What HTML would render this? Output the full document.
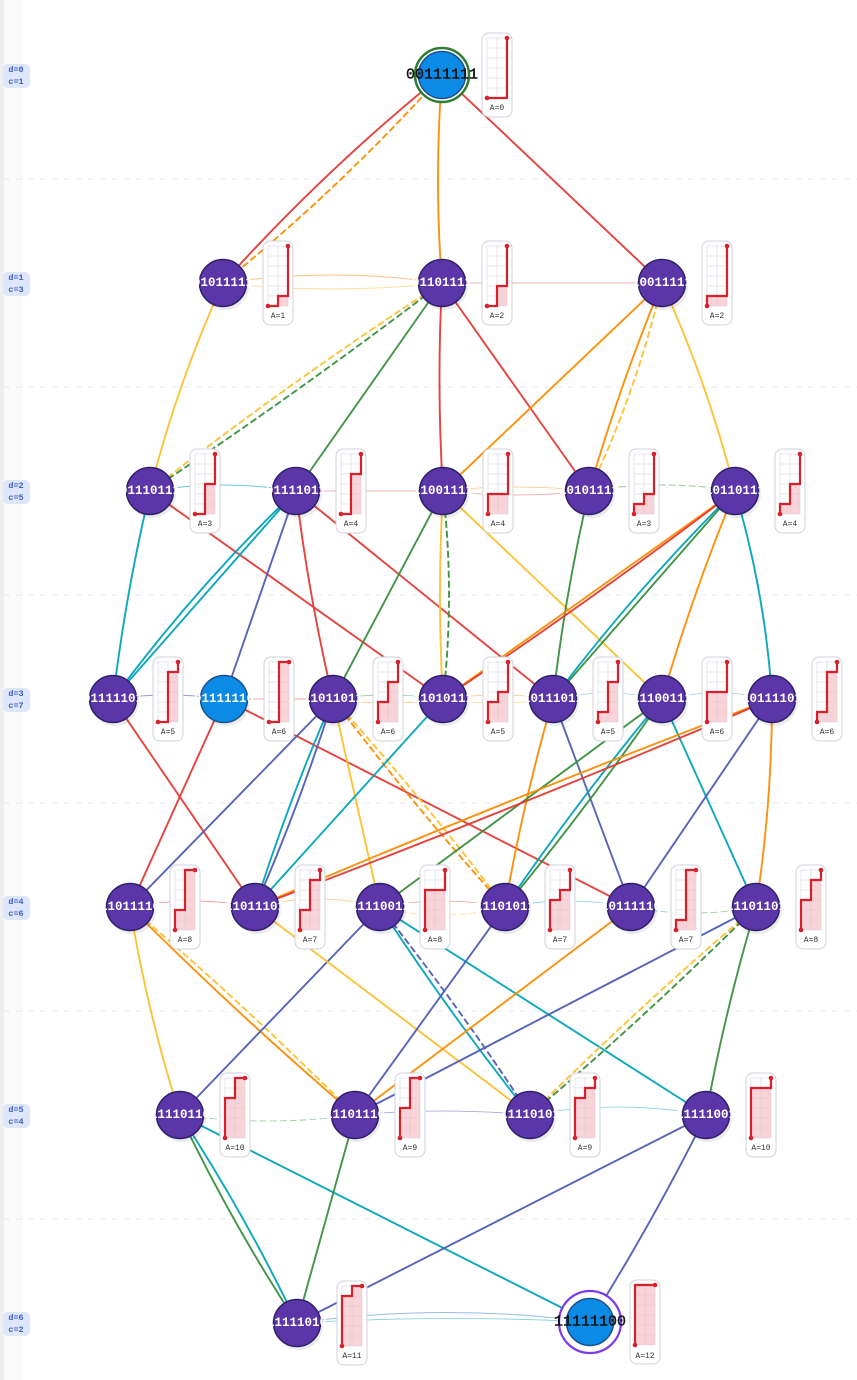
<!DOCTYPE html>
<html><head><meta charset="utf-8"><style>
html,body{margin:0;padding:0;background:#fff;width:857px;height:1380px;overflow:hidden}
svg{display:block}
.nl{font-family:"Liberation Mono",monospace;font-weight:bold;font-size:12.5px;fill:#fff;text-anchor:middle;dominant-baseline:central}
.cl{font-family:"Liberation Mono",monospace;font-size:8px;fill:#333;text-anchor:middle}
.lv{font-family:"Liberation Mono",monospace;font-weight:bold;font-size:8.5px;fill:#3f5fc4;text-anchor:middle}
</style></head><body>
<svg id="s" width="857" height="1380" xmlns="http://www.w3.org/2000/svg">
<rect x="0" y="0" width="22" height="1380" fill="#fafafb"/>
<rect x="0" y="0" width="4" height="1380" fill="#eeeef1"/>
<g id="sep"></g>
<g id="edges"></g>
<g id="cards"></g>
<g id="nodes"></g>
<g id="texts">
<rect x="3" y="64" width="27" height="24" rx="5" fill="#dde6fb"/><text class="lv" x="16" y="72">d=0</text><text class="lv" x="16" y="84">c=1</text>
<rect x="3" y="272" width="27" height="24" rx="5" fill="#dde6fb"/><text class="lv" x="16" y="280">d=1</text><text class="lv" x="16" y="292">c=3</text>
<rect x="3" y="480" width="27" height="24" rx="5" fill="#dde6fb"/><text class="lv" x="16" y="488">d=2</text><text class="lv" x="16" y="500">c=5</text>
<rect x="3" y="688" width="27" height="24" rx="5" fill="#dde6fb"/><text class="lv" x="16" y="696">d=3</text><text class="lv" x="16" y="708">c=7</text>
<rect x="3" y="896" width="27" height="24" rx="5" fill="#dde6fb"/><text class="lv" x="16" y="904">d=4</text><text class="lv" x="16" y="916">c=6</text>
<rect x="3" y="1104" width="27" height="24" rx="5" fill="#dde6fb"/><text class="lv" x="16" y="1112">d=5</text><text class="lv" x="16" y="1124">c=4</text>
<rect x="3" y="1312" width="27" height="24" rx="5" fill="#dde6fb"/><text class="lv" x="16" y="1320">d=6</text><text class="lv" x="16" y="1332">c=2</text>
</g>
<g id="labels">
<text class="nl" x="442" y="75" style="fill:#111;font-size:15px;font-weight:normal;stroke:#111;stroke-width:0.4">00111111</text>
<text class="nl" x="223" y="283">01011111</text><text class="nl" x="442" y="283">01101111</text><text class="nl" x="662" y="283">10011111</text>
<text class="nl" x="150" y="491">01110111</text><text class="nl" x="296" y="491">01111011</text><text class="nl" x="443" y="491">11001111</text><text class="nl" x="589" y="491">10101111</text><text class="nl" x="735" y="491">10110111</text>
<text class="nl" x="113" y="699">01111101</text><text class="nl" x="224" y="699">01111110</text><text class="nl" x="333" y="699">11011011</text><text class="nl" x="443" y="699">11010111</text><text class="nl" x="553" y="699">10111011</text><text class="nl" x="662" y="699">11100111</text><text class="nl" x="772" y="699">10111101</text>
<text class="nl" x="130" y="907">11011110</text><text class="nl" x="255" y="907">11011101</text><text class="nl" x="380" y="907">11110011</text><text class="nl" x="505" y="907">11101011</text><text class="nl" x="631" y="907">10111110</text><text class="nl" x="756" y="907">11101101</text>
<text class="nl" x="180" y="1115">11110110</text><text class="nl" x="355" y="1115">11101110</text><text class="nl" x="530" y="1115">11110101</text><text class="nl" x="706" y="1115">11111001</text>
<text class="nl" x="297" y="1323">11111010</text>
<text class="nl" x="590" y="1322" style="fill:#111;font-size:15px;font-weight:normal;stroke:#111;stroke-width:0.4">11111100</text>
</g>
<g id="clabels">
<text class="cl" x="497" y="110">A=0</text>
<text class="cl" x="278" y="318">A=1</text><text class="cl" x="497" y="318">A=2</text><text class="cl" x="717" y="318">A=2</text>
<text class="cl" x="205" y="526">A=3</text><text class="cl" x="351" y="526">A=4</text><text class="cl" x="498" y="526">A=4</text><text class="cl" x="644" y="526">A=3</text><text class="cl" x="790" y="526">A=4</text>
<text class="cl" x="168" y="734">A=5</text><text class="cl" x="279" y="734">A=6</text><text class="cl" x="388" y="734">A=6</text><text class="cl" x="498" y="734">A=5</text><text class="cl" x="608" y="734">A=5</text><text class="cl" x="717" y="734">A=6</text><text class="cl" x="827" y="734">A=6</text>
<text class="cl" x="185" y="942">A=8</text><text class="cl" x="310" y="942">A=7</text><text class="cl" x="435" y="942">A=8</text><text class="cl" x="560" y="942">A=7</text><text class="cl" x="686" y="942">A=7</text><text class="cl" x="811" y="942">A=8</text>
<text class="cl" x="235" y="1150">A=10</text><text class="cl" x="410" y="1150">A=9</text><text class="cl" x="585" y="1150">A=9</text><text class="cl" x="761" y="1150">A=10</text>
<text class="cl" x="352" y="1358">A=11</text><text class="cl" x="645" y="1358">A=12</text>
</g>
</svg>
<script>
var NS="http://www.w3.org/2000/svg";
function el(p,t,a){var e=document.createElementNS(NS,t);for(var k in a)e.setAttribute(k,a[k]);document.getElementById(p).appendChild(e);return e;}
[179,387,595,803,1011,1219].forEach(function(y){el("sep","line",{x1:4,y1:y,x2:857,y2:y,stroke:"#e3e8f0","stroke-dasharray":"6 6","stroke-width":1});});
var N={
"00111111":[442,75],
"01011111":[223,283],"01101111":[442,283],"10011111":[662,283],
"01110111":[150,491],"01111011":[296,491],"11001111":[443,491],"10101111":[589,491],"10110111":[735,491],
"01111101":[113,699],"01111110":[224,699],"11011011":[333,699],"11010111":[443,699],"10111011":[553,699],"11100111":[662,699],"10111101":[772,699],
"11011110":[130,907],"11011101":[255,907],"11110011":[380,907],"11101011":[505,907],"10111110":[631,907],"11101101":[756,907],
"11110110":[180,1115],"11101110":[355,1115],"11110101":[530,1115],"11111001":[706,1115],
"11111010":[297,1323],"11111100":[590,1322]};
var C={R:"#e53935",O:"#fb8c00",Y:"#fbc02d",G:"#388e3c",T:"#00a3b8",I:"#4f5bb5",B:"#6a9fd8"};
var E=[
["00111111","01011111","R",6],["00111111","01011111","O",-6,1],["00111111","01101111","O",4],["00111111","10011111","R",0],
["01011111","01101111","O",-8,0,1,0.5],["01011111","01101111","Y",6,0,1,0.5],["01101111","10011111","R",0,0,0.8,0.5],
["01011111","01110111","Y",5],["01101111","01110111","Y",4,1],["01101111","01110111","G",-3,1],["01101111","01111011","G",0],["01101111","11001111","R",3],["01101111","10101111","R",0],
["10011111","11001111","O",0],["10011111","10101111","O",3],["10011111","10101111","Y",-6,1],["10011111","10110111","Y",-5],
["01110111","01111011","T",-6,0,1,0.6],["01111011","11001111","R",0,0,0.8,0.5],["11001111","10101111","R",4,0,0.8,0.5],["10101111","10110111","G",-6,1,1,0.5],["11001111","10101111","O",-4,0,0.8,0.5],
["01110111","01111101","T",3],["01110111","11010111","R",0],["01111011","10111011","R",0],["01111011","01111101","T",0],["01111011","01111101","T",6],["01111011","01111110","I",0],["01111011","11011011","R",3],
["11001111","11011011","G",0],["11001111","11010111","Y",3],["11001111","11010111","G",-6,1],["11001111","11100111","Y",0],["10101111","10111011","G",3],
["10110111","11010111","O",0],["10110111","11010111","R",-3],["10110111","10111011","G",0],["10110111","10111011","T",5],["10110111","11100111","O",3],["10110111","10111101","T",-6],
["01111101","01111110","I",-4,0,1,0.6],["01111110","11011011","R",0,0,0.8,0.6],["11011011","11010111","G",-4,0,0.8,0.5],["11011011","11010111","O",4,0,0.8,0.5],["11010111","10111011","O",-4,0,0.8,0.5],["11010111","10111011","Y",4,0,0.8,0.5],["10111011","11100111","B",-6,0,0.8,0.6],["11100111","10111101","B",-6,0,0.8,0.6],
["01111101","11011101","R",0],["01111110","11011110","R",0],["01111110","10111110","R",0],["11011011","11011110","I",0],["11011011","11011101","T",3],["11011011","11011101","I",-3],["11011011","11110011","Y",0],["11011011","11101011","O",3,1],["11011011","11101011","Y",-3,1],
["11010111","11011101","T",0],["10111011","11101011","O",3],["10111011","10111110","I",0],["11100111","11110011","G",0],["11100111","11101011","T",3],["11100111","11101011","G",-3],["11100111","11101101","T",0],
["10111101","11011101","O",3],["10111101","11011101","R",-3],["10111101","10111110","I",0],["10111101","11101101","O",-4],
["11011110","11011101","R",-6,0,0.8,0.6],["11011101","11110011","O",-8,0,0.8,0.5],["11110011","11101011","Y",8,1,0.8,0.5],["11110011","11101011","R",-6,0,0.8,0.5],["11101011","10111110","T",-6,0,0.8,0.5],["10111110","11101101","G",6,1,0.8,0.5],
["11011110","11110110","Y",4],["11011110","11101110","O",3],["11011110","11101110","Y",-3,1],["11110011","11110110","I",0],["11011101","11110101","Y",0],["11110011","11110101","T",3],["11110011","11110101","I",-3,1],["11110011","11111001","T",0],
["11101011","11101110","I",0],["10111110","11101110","O",0],["11101101","11101110","I",0],["11101101","11110101","Y",3,1],["11101101","11110101","G",-3,1],["11101101","11111001","G",3],
["11110110","11101110","G",6,1,0.8,0.5],["11101110","11110101","I",-4,0,0.8,0.6],["11110101","11111001","T",-8,0,0.8,0.5],
["11110110","11111010","G",4],["11110110","11111010","T",-4],["11110110","11111100","T",0],["11101110","11111010","G",0],["11111001","11111010","I",0],["11111001","11111100","I",-3],
["11111010","11111100","B",-10,0,1,0.7],["11111010","11111100","T",-4,0,0.8,0.5]
];
E.forEach(function(e){
 var a=N[e[0]],b=N[e[1]],c=C[e[2]],bend=e[3]||0;
 var mx=(a[0]+b[0])/2,my=(a[1]+b[1])/2,dx=b[0]-a[0],dy=b[1]-a[1],L=Math.sqrt(dx*dx+dy*dy);
 var nx=-dy/L,ny=dx/L;
 var qx=mx+nx*bend*2,qy=my+ny*bend*2;
 var at={d:"M"+a[0]+","+a[1]+" Q"+qx+","+qy+" "+b[0]+","+b[1],fill:"none",stroke:c,"stroke-width":e[5]||1.9,opacity:e[6]||0.95};
 if(e[4])at["stroke-dasharray"]="7 3";
 el("edges","path",at);
});
Object.keys(N).forEach(function(k){
 var p=N[k],x=p[0],y=p[1];
 var blue=(k=="00111111"||k=="11111100"||k=="01111110");
 el("nodes","circle",{cx:x+2,cy:y+3,r:24,fill:"#000",opacity:0.08});
 if(k=="00111111")el("nodes","circle",{cx:x,cy:y,r:27,fill:"#fff",stroke:"#2e7d32","stroke-width":2.5});
 if(k=="11111100")el("nodes","circle",{cx:x,cy:y,r:31,fill:"#fff",stroke:"#7c3aed","stroke-width":2.2});
 el("nodes","circle",{cx:x,cy:y,r:23.5,fill:blue?"#0b8be6":"#5b36a8",stroke:blue?"#1d4f8a":"#2f1f6b","stroke-width":1.5});
 var cx=x+40,ty=y-42;
 el("cards","rect",{x:cx,y:ty,width:30,height:84,rx:7,fill:"#fff",stroke:"#cfd0dd","stroke-width":1});
 for(var i=0;i<=2;i++)el("cards","line",{x1:cx+5+i*10,y1:ty+5,x2:cx+5+i*10,y2:ty+65,stroke:"#dcdcea","stroke-width":0.8});
 for(var j=0;j<=6;j++)el("cards","line",{x1:cx+5,y1:ty+5+j*10,x2:cx+25,y2:ty+5+j*10,stroke:"#dcdcea","stroke-width":0.8});
 var px=cx+5,py=ty+65,pts=[[px,py]];
 for(var t=0;t<8;t++){if(k[t]=="0")px+=10;else py-=10;pts.push([px,py]);}
 var ps=pts.map(function(q){return q[0]+","+q[1]}).join(" ");
 el("cards","polygon",{points:ps+" "+(cx+25)+","+(ty+65),fill:"#f4b8bf",opacity:0.6});
 el("cards","polyline",{points:ps,fill:"none",stroke:"#d91f2a","stroke-width":2.2});
 el("cards","circle",{cx:cx+5,cy:ty+65,r:2.3,fill:"#d91f2a"});
 el("cards","circle",{cx:cx+25,cy:ty+5,r:2.3,fill:"#d91f2a"});
});
</script>
</body></html>
